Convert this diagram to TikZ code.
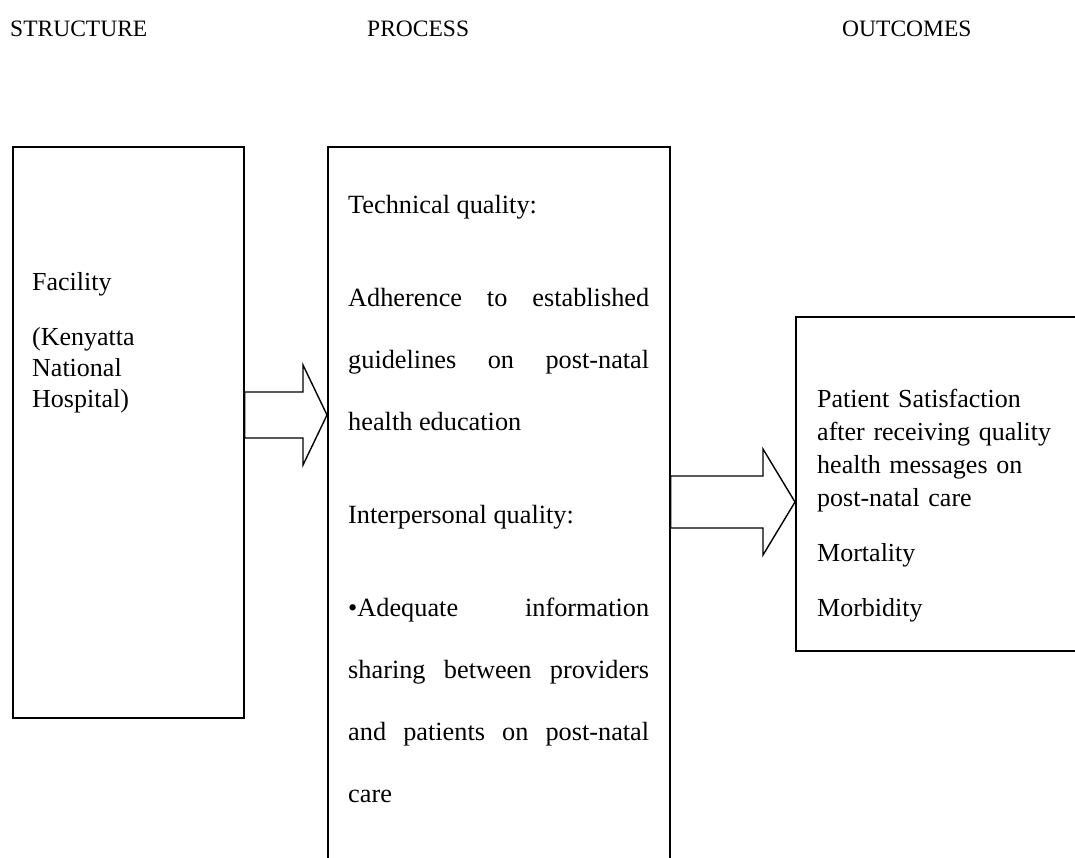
\documentclass[tikz,border=0pt]{standalone}
\usepackage{fontspec}
\setmainfont{Liberation Serif}
\usepackage{tikz}
\usetikzlibrary{calc}

\tikzset{
  box/.style={draw, line width=1.6pt, inner sep=0pt, anchor=north west},
  blockarrow/.style={draw, line width=1.4pt, line join=miter, fill=white},
  title/.style={anchor=base west, inner sep=0pt, font=\fontsize{23.5}{28}\selectfont},
  boxtext/.style={anchor=base west, inner sep=0pt, align=left}
}

\begin{document}
\begin{tikzpicture}[x=1pt, y=-1pt]
  \useasboundingbox (0,0) rectangle (1075,857);
  \clip (0,0) rectangle (1075,857);

  % Column titles
  \node[title] (tstruct) at (10,36) {STRUCTURE};
  \node[title] (tproc) at (367,36) {PROCESS};
  \node[title] (tout) at (842,36) {OUTCOMES};

  % Boxes
  \node[box, minimum width=231pt, minimum height=571pt] (struct) at (12,146) {};
  \node[box, minimum width=342pt, minimum height=760pt] (proc) at (327,146) {};
  \node[box, minimum width=320pt, minimum height=334pt] (out) at (795,316) {};

  % Box texts
  \node[boxtext, text width=200pt, font=\fontsize{26}{31}\selectfont] (facility)
    at ($(struct.north west)+(20,144)$)
    {Facility\\[24pt](Kenyatta\\National\\Hospital)};

  \node[boxtext, text width=301pt, align=justify,
        font=\fontsize{26.3}{62}\selectfont] (quality)
    at ($(proc.north west)+(21,67)$)
    {\hyphenpenalty=10000\exhyphenpenalty=10000\setlength{\parskip}{31pt}%
     Technical quality:\par
     Adherence to established\linebreak guidelines on post-natal\linebreak health education\par
     Interpersonal quality:\par
     \textbullet Adequate information\linebreak sharing between providers\linebreak
     and patients on post-natal\linebreak care\par};

  \node[boxtext, text width=250pt, font=\fontsize{26}{33}\selectfont] (results)
    at ($(out.north west)+(22,91)$)
    {Patient Satisfaction\\after receiving quality\\health messages on\\post-natal care\\[22pt]
     Mortality\\[22pt]Morbidity};

  % Block arrows
  \coordinate (t1) at (struct.east |- 0,415);
  \coordinate (h1) at (proc.west |- 0,415);
  \draw[blockarrow] (t1) -- ++(0,-23) -- ($(h1)+(-24,-23)$) -- ($(h1)+(-24,-50)$)
    -- (h1) -- ($(h1)+(-24,50)$) -- ($(h1)+(-24,23)$) -- ($(t1)+(0,23)$) -- cycle;

  \coordinate (t2) at (proc.east |- 0,502);
  \coordinate (h2) at (out.west |- 0,502);
  \draw[blockarrow] (t2) -- ++(0,-26) -- ($(h2)+(-32,-26)$) -- ($(h2)+(-32,-53)$)
    -- (h2) -- ($(h2)+(-32,53)$) -- ($(h2)+(-32,26)$) -- ($(t2)+(0,26)$) -- cycle;

\end{tikzpicture}
\end{document}
